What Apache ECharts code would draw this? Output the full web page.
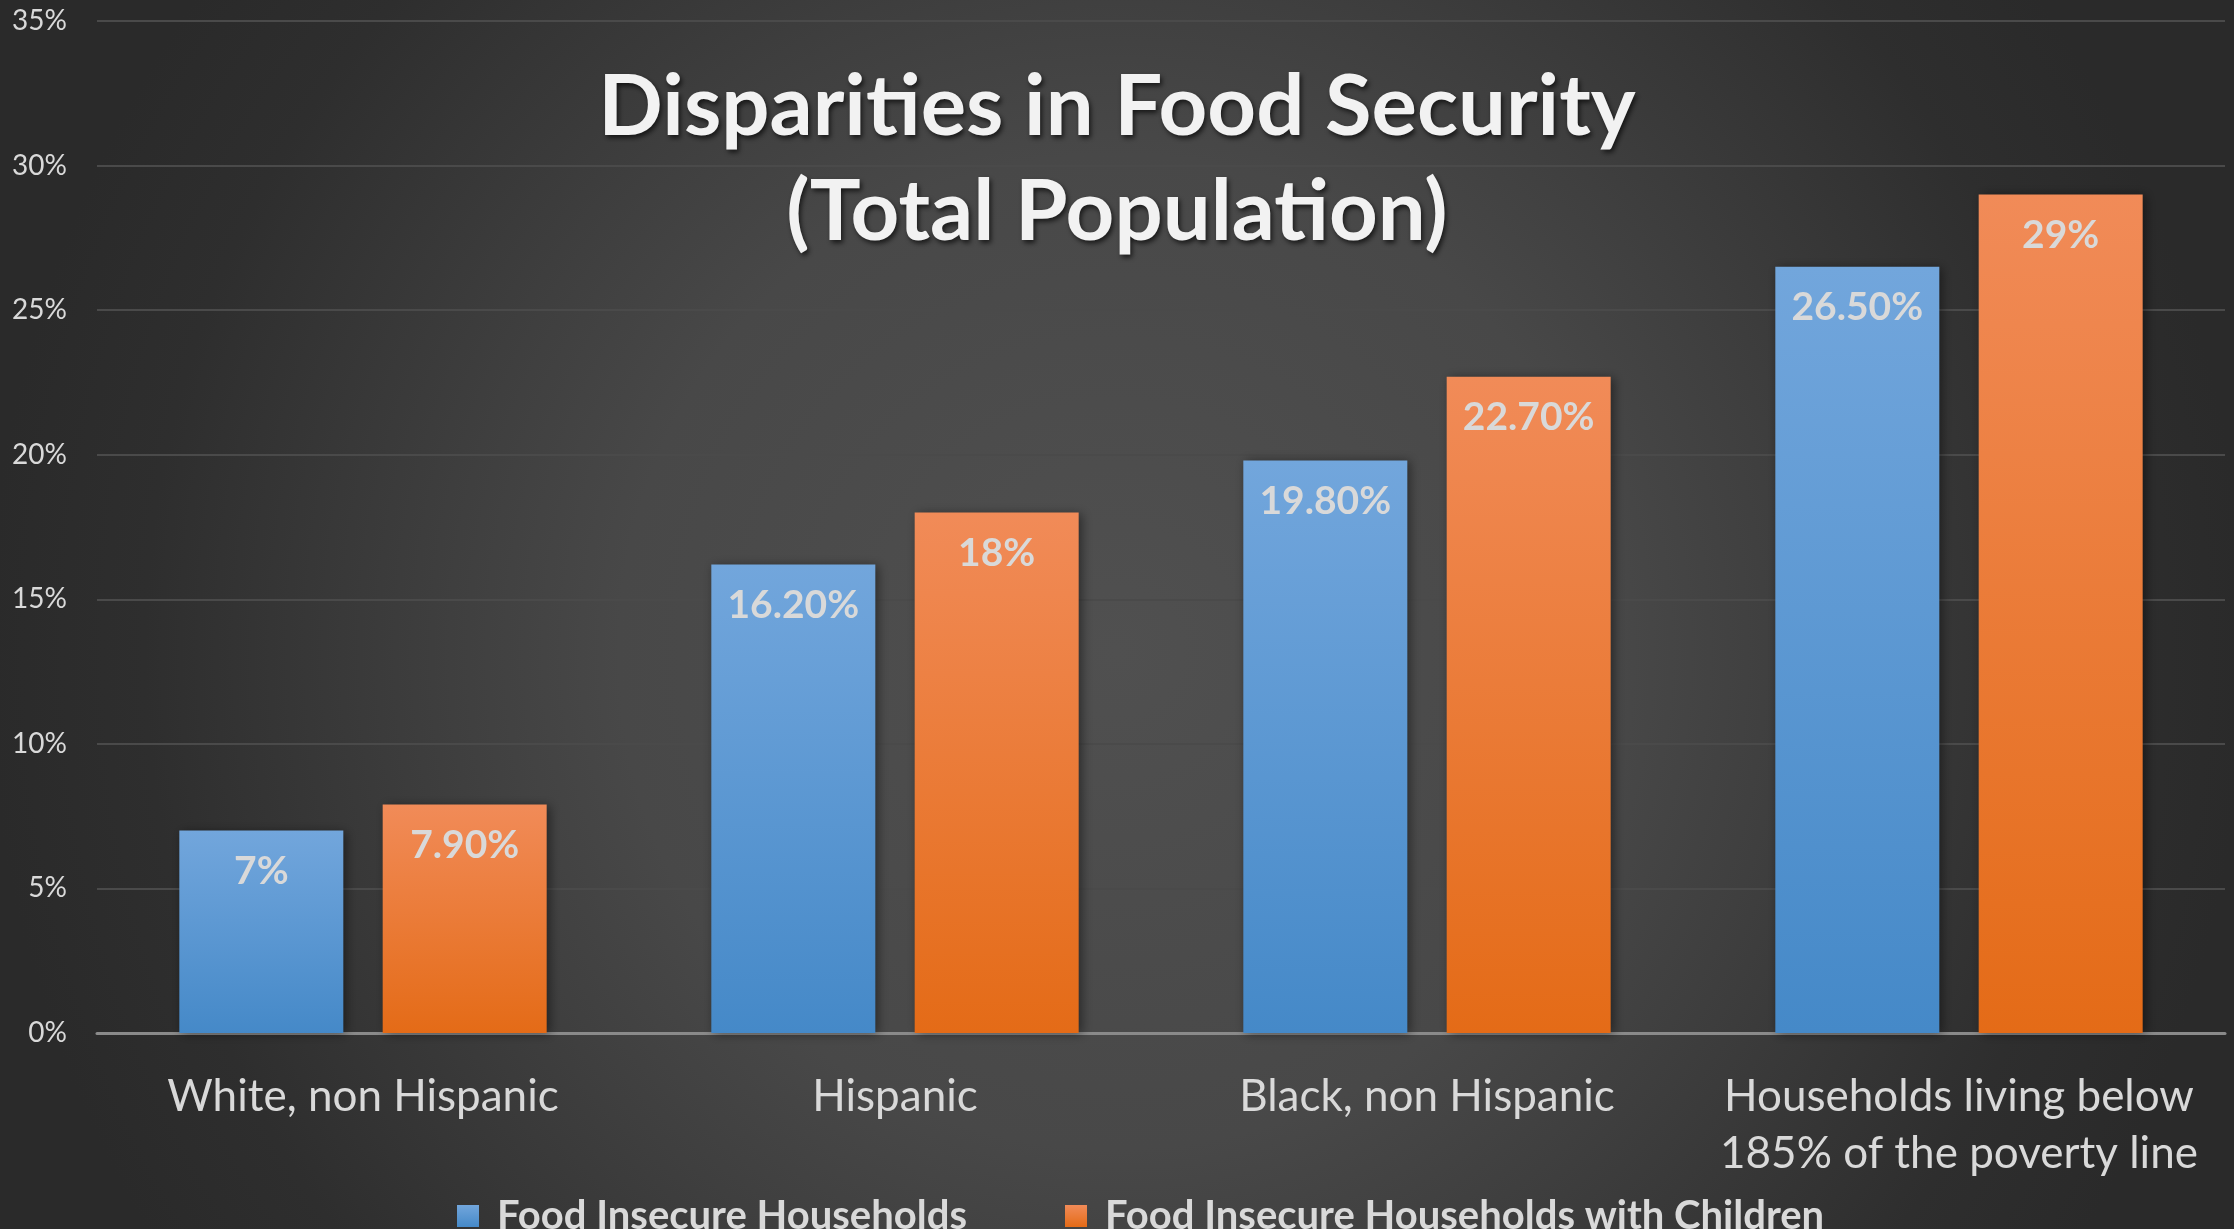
<!DOCTYPE html>
<html>
<head>
<meta charset="utf-8">
<script src="https://cdn.jsdelivr.net/npm/echarts@6/dist/echarts.min.js"></script>
<style>
html,body{margin:0;padding:0;background:#2b2b2b;}
#c{width:2234px;height:1229px;}
</style>
</head>
<body>
<div id="c"></div>
<script>
const categories = ['White, non Hispanic', 'Hispanic', 'Black, non Hispanic', 'Households living below\n185% of the poverty line'];
const seriesNames = ['Food Insecure Households', 'Food Insecure Households with Children'];
const householdsValues = [7, 16.2, 19.8, 26.5];
const childrenValues = [7.9, 18, 22.7, 29];
const householdsLabels = ['7%', '16.20%', '19.80%', '26.50%'];
const childrenLabels = ['7.90%', '18%', '22.70%', '29%'];
const yTicks = [0, 5, 10, 15, 20, 25, 30, 35];

const FONT = 'Lato, "Open Sans", sans-serif';
const chart = echarts.init(document.getElementById('c'), null, {renderer: 'canvas'});

function grad(top, bottom) {
  return new echarts.graphic.LinearGradient(0, 0, 0, 1, [
    {offset: 0, color: top}, {offset: 1, color: bottom}
  ]);
}
const blueGrad = grad('#72a6dc', '#4589c8');
const orangeGrad = grad('#f18b58', '#e46b17');

function barLabel(labels) {
  return {
    show: true,
    position: 'insideTop',
    distance: 21,
    color: '#d9d9d9',
    fontFamily: FONT,
    fontWeight: 'bold',
    fontSize: 39,
    formatter: p => labels[p.dataIndex]
  };
}

chart.setOption({
  backgroundColor: {
    type: 'radial', x: 0.5, y: 0.53, r: 0.92,
    colorStops: [
      {offset: 0, color: '#505050'},
      {offset: 0.44, color: '#484848'},
      {offset: 0.59, color: '#3f3f3f'},
      {offset: 0.86, color: '#2e2e2e'},
      {offset: 1, color: '#2a2a2a'}
    ]
  },
  title: {
    text: 'Disparities in Food Security\n(Total Population)',
    left: 'center',
    top: 50,
    textStyle: {
      color: '#f2f2f2', fontFamily: FONT, fontWeight: 'bold', fontSize: 85, lineHeight: 105,
      textShadowColor: 'rgba(0,0,0,0.65)', textShadowBlur: 5, textShadowOffsetX: 2, textShadowOffsetY: 3
    }
  },
  legend: {
    data: seriesNames,
    left: 452,
    top: 1191,
    itemWidth: 22,
    itemHeight: 22,
    itemGap: 98,
    icon: 'rect',
    textStyle: {color: '#d9d9d9', fontFamily: FONT, fontWeight: 'bold', fontSize: 40, padding: [0, 0, 0, 13]}
  },
  grid: {left: 97, right: 9, top: 21, bottom: 196, containLabel: false},
  xAxis: {
    type: 'category',
    data: categories,
    axisTick: {show: false},
    axisLine: {lineStyle: {color: '#8a8a8a', width: 3}},
    axisLabel: {color: '#d9d9d9', fontFamily: FONT, fontSize: 44, lineHeight: 57, margin: 35, interval: 0}
  },
  yAxis: {
    type: 'value',
    min: yTicks[0], max: yTicks[yTicks.length - 1], interval: 5,
    axisLine: {show: false},
    axisTick: {show: false},
    splitLine: {lineStyle: {color: '#4a4a4a', width: 2}},
    axisLabel: {color: '#d9d9d9', fontFamily: FONT, fontSize: 28, margin: 30, formatter: v => v + '%'}
  },
  series: [
    {
      name: seriesNames[0], type: 'bar', data: householdsValues,
      barWidth: 164, barGap: '24%',
      itemStyle: {color: blueGrad, shadowColor: 'rgba(0,0,0,0.45)', shadowBlur: 10, shadowOffsetX: 3, shadowOffsetY: 1},
      label: barLabel(householdsLabels)
    },
    {
      name: seriesNames[1], type: 'bar', data: childrenValues,
      barWidth: 164, barGap: '24%',
      itemStyle: {color: orangeGrad, shadowColor: 'rgba(0,0,0,0.45)', shadowBlur: 10, shadowOffsetX: 3, shadowOffsetY: 1},
      label: barLabel(childrenLabels)
    }
  ]
});
</script>
</body>
</html>
